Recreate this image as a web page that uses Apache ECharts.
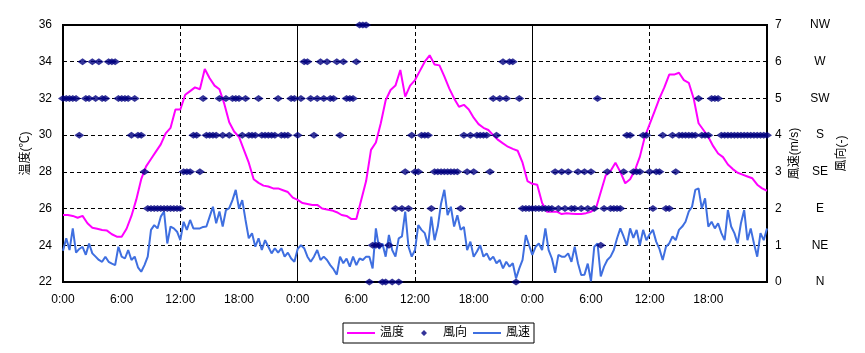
<!DOCTYPE html>
<html><head><meta charset="utf-8">
<script src="https://cdn.jsdelivr.net/npm/echarts@6/dist/echarts.min.js"></script>
<style>html,body{margin:0;padding:0;background:#fff}#c{width:865px;height:353px}</style>
</head><body><div id="c"></div>
<script>
// time step of each series (hours)
const tempStepHours = 0.5;
const windStepHours = 1 / 3;

// 温度 (°C), every 30 min from 0:00 day 1 to 0:00 day 4
const temperature = [
  25.65,25.65,25.6,25.5,25.6,25.2,24.95,24.9,24.83,24.8,
  24.6,24.47,24.47,24.9,25.6,26.5,27.6,28.3,28.7,29.1,
  29.5,30.1,30.4,31.4,31.4,32.2,32.4,32.6,32.5,33.6,
  33.1,32.7,32.5,31.7,30.7,30.2,29.9,29.2,28.5,27.6,
  27.4,27.25,27.2,27.1,27.1,27.0,26.9,26.6,
  26.47,26.3,26.25,26.2,26.2,26.0,25.95,25.9,25.8,25.65,
  25.6,25.43,25.43,26.47,27.5,29.2,29.6,30.65,31.9,32.46,
  32.7,33.55,32.1,32.7,33.0,33.5,34.0,34.35,33.85,33.8,
  33.2,32.55,32.0,31.55,31.65,31.4,30.95,30.6,30.4,30.28,
  30.0,29.74,29.55,29.37,29.25,29.15,28.5,27.5,
  27.35,27.3,26.3,25.83,25.83,25.83,25.7,25.74,25.72,25.7,
  25.7,25.75,25.83,26.0,26.9,27.8,28.05,28.5,28.0,27.38,
  27.6,28.1,28.83,29.9,30.6,31.3,32.0,32.6,33.3,33.3,
  33.4,33.0,32.85,32.0,30.65,30.28,29.9,29.4,29.0,28.8,
  28.4,28.15,27.95,27.85,27.75,27.65,27.3,27.1,26.97
];

// 風速 (m/s), every 20 min
const windSpeed = [
  0.85,1.19,0.87,1.46,0.8,0.9,0.96,0.74,1.05,0.78,
  0.69,0.6,0.55,0.69,0.55,0.5,0.46,0.96,0.69,0.64,
  0.87,0.6,0.69,0.4,0.28,0.46,0.69,1.42,1.55,1.46,
  1.78,1.92,1.05,1.51,1.46,1.37,1.14,1.64,1.42,1.69,
  1.46,1.46,1.46,1.5,1.51,1.78,2.05,1.6,1.92,1.51,
  1.96,2.01,2.23,2.51,2.0,2.23,1.69,1.19,1.33,0.96,
  1.19,0.87,1.14,0.96,0.78,0.92,0.8,0.92,0.69,0.8,
  0.64,0.55,
  0.9,1.0,0.92,0.69,0.55,0.69,0.87,0.6,0.69,0.6,
  0.46,0.35,0.2,0.69,0.51,0.64,0.42,0.69,0.46,0.64,
  0.6,0.69,0.69,0.37,1.46,0.9,1.05,0.69,1.28,0.87,
  0.69,1.19,1.24,1.92,0.96,0.69,0.87,1.55,1.42,1.33,
  1.0,1.78,1.14,1.51,2.14,2.51,1.82,2.05,1.51,1.82,
  1.42,1.5,0.87,1.1,0.69,0.83,1.0,0.69,0.78,0.6,
  0.69,0.51,0.6,0.37,0.55,0.42,0.51,0.1,0.37,0.6,
  1.28,1.0,
  0.74,0.96,1.05,0.87,1.46,0.87,0.64,0.25,0.74,0.69,
  0.69,0.78,0.55,0.96,0.51,0.19,0.2,0.5,0.02,0.96,
  1.05,0.15,0.42,0.6,0.69,0.87,1.19,1.46,1.24,1.0,
  1.46,1.2,1.42,1.0,1.42,1.14,1.3,1.42,1.1,0.9,
  0.6,0.96,1.05,1.24,1.14,1.42,1.51,1.64,1.92,2.05,
  2.51,2.55,2.0,2.28,1.51,1.64,1.46,1.6,1.33,1.14,
  1.96,1.51,1.33,1.05,1.6,1.96,1.14,1.46,1.05,0.69,
  1.33,1.14,1.46
];

// 風向 (0=N ... 7=NW), every 20 min
const windDirection = [
  5,5,5, 5,5,4, 6,5,5, 6,5,6, 5,5,6, 6,6,5, 5,5,5, 4,5,4,
  4,3,2, 2,2,2, 2,2,2, 2,2,2, 2,3,3, 3,4,4, 3,5,4, 4,4,4,
  5,4,5, 4,5,5, 5,4,5, 4,4,4, 5,4,4, 4,4,4, 5,4,4, 4,5,5,
  4,5,6, 6,5,4, 5,6,5, 6,5,5, 6,4,6, 5,5,5, 6,7,7, 7,0,1,
  1,1,0, 0,1,0, 2,0,2, 3,2,4, 3,3,4, 4,4,2, 3,3,3, 3,3,3,
  3,3,2, 4,3,4, 3,4,4, 4,4,3, 5,4,5, 6,5,6, 6,0,5, 2,2,2,
  2,2,2, 2,2,2, 2,3,2, 3,2,3, 2,2,3, 2,3,2, 3,2,5, 1,2,3,
  2,2,2, 2,3,4, 4,3,3, 3,4,4, 3,2,3, 3,4,2, 2,4,3, 4,4,4,
  4,4,4, 5,4,4, 4,5,5, 5,4,4, 4,4,4, 4,4,4, 4,4,4, 4,4,4,
  4
];

const directionNames = ['N', 'NE', 'E', 'SE', 'S', 'SW', 'W', 'NW'];
const seriesNames = ['温度', '風向', '風速'];
const axisTitles = ['温度(℃)', '風速(m/s)', '風向(-)'];

const FONT = "'Liberation Sans', 'Noto Sans CJK JP', sans-serif";
const chart = echarts.init(document.getElementById('c'), null, { renderer: 'canvas' });

const hiddenX = (interval, lineType) => ({
  type: 'value', min: 0, max: 72, interval: interval,
  axisLine: { show: false }, axisTick: { show: false }, axisLabel: { show: false },
  splitLine: { show: true, lineStyle: { color: '#000', width: 1, type: lineType } }
});

const LINE_ICON = 'path://M0,0 L28,0 L28,2 L0,2 Z';
const DIAMOND_ICON = 'path://M0,3.5 L0.01,3.5 Z M28,3.5 L27.99,3.5 Z M14,0.5 L17,3.5 L14,6.5 L11,3.5 Z';

chart.setOption({
  animation: false,
  backgroundColor: '#fff',
  textStyle: { fontFamily: FONT },
  grid: { left: 63, right: 98, top: 25, bottom: 71, show: true, borderColor: '#000', borderWidth: 2, backgroundColor: 'transparent' },
  xAxis: [
    {
      type: 'value', min: 0, max: 72, interval: 6,
      axisLine: { show: false }, axisTick: { show: false }, splitLine: { show: false },
      axisLabel: { formatter: v => (v % 24) + ':00', showMaxLabel: false, margin: 12, color: '#000', fontSize: 12, fontFamily: FONT }
    },
    hiddenX(12, [4, 3]),
    hiddenX(24, 'solid')
  ],
  yAxis: [
    {
      type: 'value', min: 22, max: 36, interval: 2,
      name: axisTitles[0], nameLocation: 'middle', nameRotate: 90, nameGap: 31, nameMoveOverlap: false,
      nameTextStyle: { color: '#000', fontSize: 12, fontFamily: FONT },
      axisLine: { show: false }, axisTick: { show: false },
      axisLabel: { margin: 11, color: '#000', fontSize: 12, fontFamily: FONT },
      splitLine: { show: true, lineStyle: { color: '#000', width: 1, type: [4, 3] } }
    },
    {
      type: 'value', position: 'right', min: 0, max: 7, interval: 1,
      name: axisTitles[1], nameLocation: 'middle', nameRotate: 90, nameGap: 22, nameMoveOverlap: false,
      nameTextStyle: { color: '#000', fontSize: 12, fontFamily: FONT },
      axisLine: { show: false }, axisTick: { show: false }, splitLine: { show: false },
      axisLabel: { margin: 8, color: '#000', fontSize: 12, fontFamily: FONT }
    },
    {
      type: 'value', position: 'right', min: 0, max: 7, interval: 1,
      name: axisTitles[2], nameLocation: 'middle', nameRotate: 90, nameGap: 69, nameMoveOverlap: false,
      nameTextStyle: { color: '#000', fontSize: 12, fontFamily: FONT },
      axisLine: { show: false }, axisTick: { show: false }, splitLine: { show: false },
      axisLabel: { formatter: v => directionNames[v], align: 'center', margin: 53, color: '#000', fontSize: 12, fontFamily: FONT }
    }
  ],
  legend: {
    left: 343, top: 323, orient: 'horizontal',
    itemWidth: 28, itemHeight: 7, itemGap: 6, padding: [4, 4],
    borderColor: '#000', borderWidth: 1, borderRadius: 0,
    textStyle: { color: '#000', fontSize: 12, fontFamily: FONT },
    data: [
      { name: seriesNames[0], icon: LINE_ICON },
      { name: seriesNames[1], icon: DIAMOND_ICON },
      { name: seriesNames[2], icon: LINE_ICON }
    ]
  },
  series: [
    {
      name: seriesNames[0], type: 'line', xAxisIndex: 0, yAxisIndex: 0,
      data: temperature.map((v, i) => [i * tempStepHours, v]),
      symbol: 'none', lineStyle: { color: '#ff00ff', width: 2 }, itemStyle: { color: '#ff00ff' }, z: 2
    },
    {
      name: seriesNames[1], type: 'scatter', xAxisIndex: 0, yAxisIndex: 1,
      data: windDirection.map((v, i) => [i * windStepHours, v]),
      symbol: 'diamond', symbolSize: [10, 7], itemStyle: { color: '#000080' }, z: 4, clip: false
    },
    {
      name: seriesNames[2], type: 'line', xAxisIndex: 0, yAxisIndex: 1,
      data: windSpeed.map((v, i) => [i * windStepHours, v]),
      symbol: 'none', lineStyle: { color: '#3f6fe0', width: 2 }, itemStyle: { color: '#3f6fe0' }, z: 3
    }
  ]
});
</script>
</body></html>
